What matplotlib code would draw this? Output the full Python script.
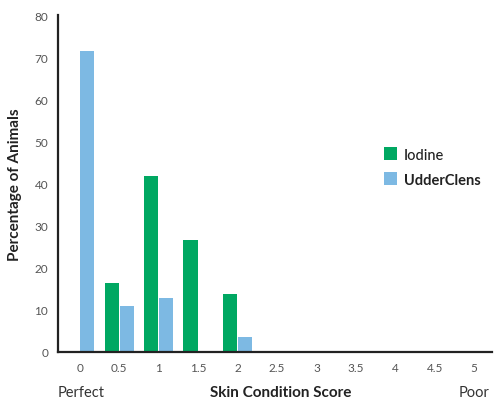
import matplotlib
matplotlib.use("Agg")
import matplotlib.pyplot as plt
import numpy as np

# Skin condition scores and percentages
scores = ["0", "0.5", "1", "1.5", "2", "2.5", "3", "3.5", "4", "4.5", "5"]
iodine = [0, 16.3, 41.8, 26.5, 13.8, 0, 0, 0, 0, 0, 0]
udderclens = [71.4, 10.8, 12.7, 0, 3.6, 0, 0, 0, 0, 0, 0]

green = "#00a862"
blue = "#7db9e3"

plt.rcParams["font.family"] = ["Lato", "DejaVu Sans"]

fig = plt.figure(figsize=(5, 4.02), dpi=100)
ax = fig.add_axes([0.116, 0.122, 0.868, 0.838])

x = np.arange(len(scores))
w = 0.36
ax.bar(x - w / 2 - 0.01, iodine, w, color=green, label="Iodine")
ax.bar(x + w / 2 + 0.01, udderclens, w, color=blue, label="UdderClens")

ax.set_xlim(-0.55, 10.45)
ax.set_ylim(0, 80)
ax.set_yticks(range(0, 81, 10))
ax.set_xticks(x)
ax.set_xticklabels(scores)
ax.tick_params(length=0, labelsize=8.5, colors="#555555", pad=7)
ax.tick_params(axis="y", pad=7)

for s in ["top", "right"]:
    ax.spines[s].set_visible(False)
for s in ["left", "bottom"]:
    ax.spines[s].set_linewidth(1.6)
    ax.spines[s].set_color("#222222")

ax.set_ylabel("Percentage of Animals", fontsize=11, fontweight="bold",
              color="#222222", labelpad=9)
fig.text(0.562, 0.023, "Skin Condition Score", fontsize=11, fontweight="bold",
         color="#222222", ha="center", va="center")
fig.text(0.116, 0.023, "Perfect", fontsize=10.5, color="#333333", va="center")
fig.text(0.98, 0.023, "Poor", fontsize=10.5, color="#333333", va="center", ha="right")

leg = ax.legend(loc="upper left", bbox_to_anchor=(0.72, 0.646), frameon=False,
                handlelength=0.9, handleheight=0.9, handletextpad=0.5,
                labelspacing=0.75, fontsize=10.5)
leg.get_texts()[0].set_fontweight("medium")
leg.get_texts()[1].set_fontweight("bold")
for t in leg.get_texts():
    t.set_color("#222222")

fig.savefig("out.png", dpi=100)
